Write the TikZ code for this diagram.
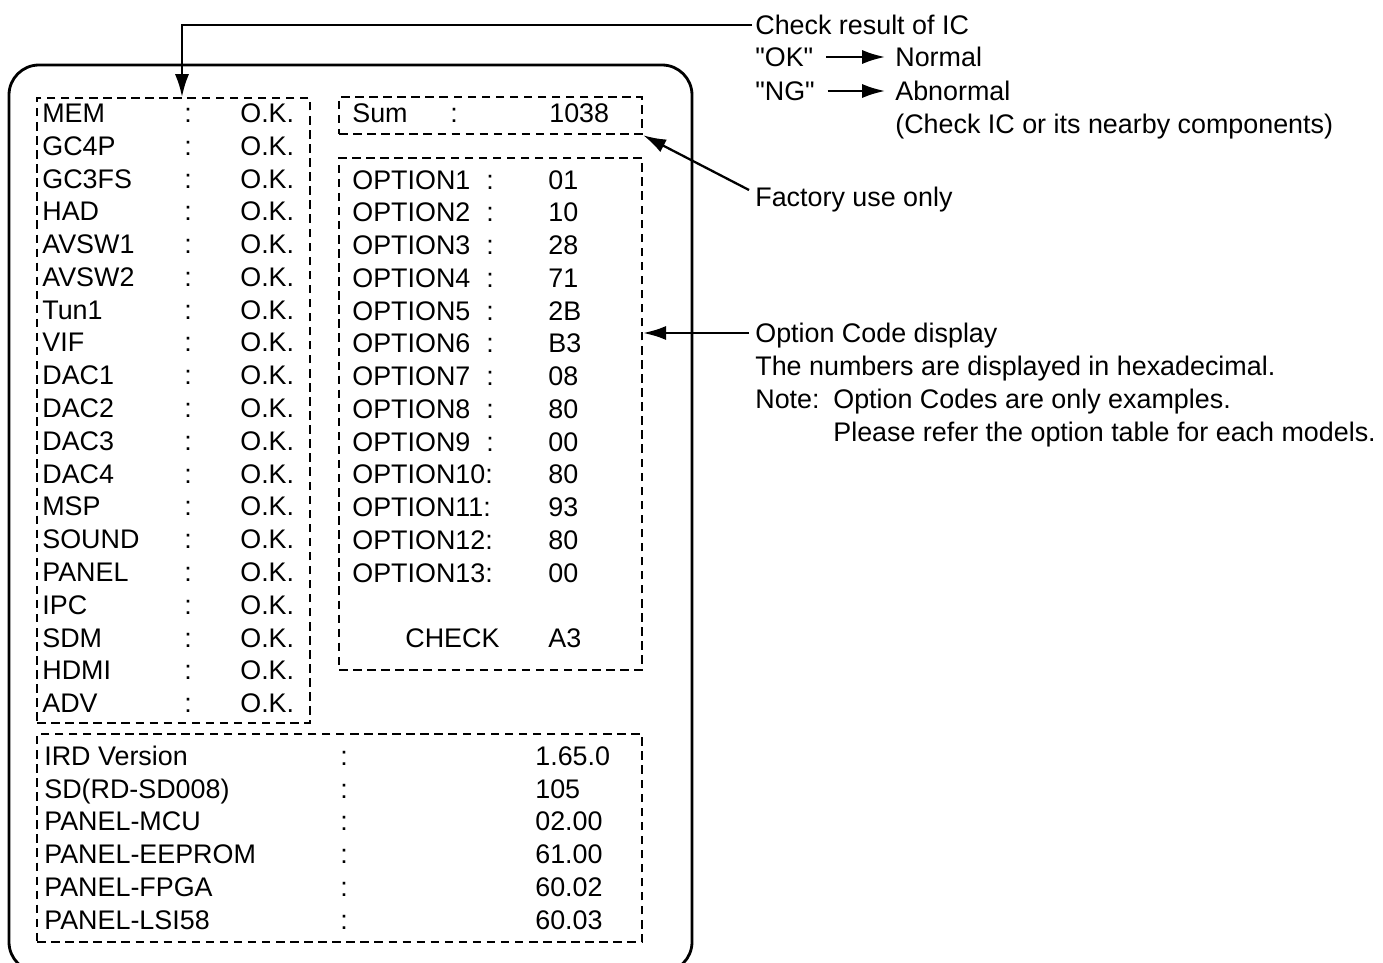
\documentclass[tikz,border=0pt]{standalone}
\usepackage{fontspec}
\newfontfamily\lbfont{Liberation Sans}
\usetikzlibrary{arrows.meta}

\begin{document}
\begin{tikzpicture}[x=0.02cm,y=-0.02cm,
    lbl/.style={anchor=west,inner sep=0pt,text height=10.9pt,text depth=0pt,font=\lbfont\fontsize{15.3}{18}\selectfont},
    dbox/.style={draw,line width=1.3pt,dash pattern=on 4.8pt off 3.2pt,anchor=north west,inner sep=0pt},
    arr/.style={line width=1.3pt,-{Latex[length=13pt,width=8pt]}}]
    \clip (0,0) rectangle (1383,963);
    % outer frame
    \draw[line width=1.6pt,rounded corners=0.6cm] (9,65) rectangle (692,972);
    \begin{scope}
    \node[dbox,minimum width=5.46cm,minimum height=12.5cm] (icbox) at (36,97) {};
    \node[dbox,minimum width=6.06cm,minimum height=0.74cm] (sumbox) at (338,96) {};
    \node[dbox,minimum width=6.06cm,minimum height=10.24cm] (optbox) at (338,157) {};
    \node[dbox,minimum width=12.1cm,minimum height=4.16cm] (verbox) at (36,733) {};
    \end{scope}
    \begin{scope}[every node/.style={lbl}]
    % IC check list
    \node (mem) at (42,113) {MEM}; \node (memc) at (184,113) {:}; \node (memv) at (240,113) {O.K.};
    \node (gc4p) at (42,146) {GC4P}; \node (gc4pc) at (184,146) {:}; \node (gc4pv) at (240,146) {O.K.};
    \node (gc3fs) at (42,179) {GC3FS}; \node (gc3fsc) at (184,179) {:}; \node (gc3fsv) at (240,179) {O.K.};
    \node (had) at (42,211) {HAD}; \node (hadc) at (184,211) {:}; \node (hadv) at (240,211) {O.K.};
    \node (avsw1) at (42,244) {AVSW1}; \node (avsw1c) at (184,244) {:}; \node (avsw1v) at (240,244) {O.K.};
    \node (avsw2) at (42,277) {AVSW2}; \node (avsw2c) at (184,277) {:}; \node (avsw2v) at (240,277) {O.K.};
    \node (tun1) at (42,310) {Tun1}; \node (tun1c) at (184,310) {:}; \node (tun1v) at (240,310) {O.K.};
    \node (vif) at (42,342) {VIF}; \node (vifc) at (184,342) {:}; \node (vifv) at (240,342) {O.K.};
    \node (dac1) at (42,375) {DAC1}; \node (dac1c) at (184,375) {:}; \node (dac1v) at (240,375) {O.K.};
    \node (dac2) at (42,408) {DAC2}; \node (dac2c) at (184,408) {:}; \node (dac2v) at (240,408) {O.K.};
    \node (dac3) at (42,441) {DAC3}; \node (dac3c) at (184,441) {:}; \node (dac3v) at (240,441) {O.K.};
    \node (dac4) at (42,474) {DAC4}; \node (dac4c) at (184,474) {:}; \node (dac4v) at (240,474) {O.K.};
    \node (msp) at (42,506) {MSP}; \node (mspc) at (184,506) {:}; \node (mspv) at (240,506) {O.K.};
    \node (sound) at (42,539) {SOUND}; \node (soundc) at (184,539) {:}; \node (soundv) at (240,539) {O.K.};
    \node (panel) at (42,572) {PANEL}; \node (panelc) at (184,572) {:}; \node (panelv) at (240,572) {O.K.};
    \node (ipc) at (42,605) {IPC}; \node (ipcc) at (184,605) {:}; \node (ipcv) at (240,605) {O.K.};
    \node (sdm) at (42,638) {SDM}; \node (sdmc) at (184,638) {:}; \node (sdmv) at (240,638) {O.K.};
    \node (hdmi) at (42,670) {HDMI}; \node (hdmic) at (184,670) {:}; \node (hdmiv) at (240,670) {O.K.};
    \node (adv) at (42,703) {ADV}; \node (advc) at (184,703) {:}; \node (advv) at (240,703) {O.K.};
    % sum
    \node (sumn) at (352,113) {Sum}; \node (sumc) at (450,113) {:}; \node (sumv) at (549,113) {1038};
    % option codes
    \node (o1) at (352,180) {OPTION1}; \node (o1c) at (486,180) {:}; \node (o1v) at (548,180) {01};
    \node (o2) at (352,212) {OPTION2}; \node (o2c) at (486,212) {:}; \node (o2v) at (548,212) {10};
    \node (o3) at (352,245) {OPTION3}; \node (o3c) at (486,245) {:}; \node (o3v) at (548,245) {28};
    \node (o4) at (352,278) {OPTION4}; \node (o4c) at (486,278) {:}; \node (o4v) at (548,278) {71};
    \node (o5) at (352,311) {OPTION5}; \node (o5c) at (486,311) {:}; \node (o5v) at (548,311) {2B};
    \node (o6) at (352,343) {OPTION6}; \node (o6c) at (486,343) {:}; \node (o6v) at (548,343) {B3};
    \node (o7) at (352,376) {OPTION7}; \node (o7c) at (486,376) {:}; \node (o7v) at (548,376) {08};
    \node (o8) at (352,409) {OPTION8}; \node (o8c) at (486,409) {:}; \node (o8v) at (548,409) {80};
    \node (o9) at (352,442) {OPTION9}; \node (o9c) at (486,442) {:}; \node (o9v) at (548,442) {00};
    \node (o10) at (352,474) {OPTION10:}; \node (o10v) at (548,474) {80};
    \node (o11) at (352,507) {OPTION11:}; \node (o11v) at (548,507) {93};
    \node (o12) at (352,540) {OPTION12:}; \node (o12v) at (548,540) {80};
    \node (o13) at (352,573) {OPTION13:}; \node (o13v) at (548,573) {00};
    \node (chkn) at (405,638) {CHECK}; \node (chkv) at (548,638) {A3};
    % versions
    \node (ird) at (44,756) {IRD Version}; \node (irdc) at (340,756) {:}; \node (irdv) at (535,756) {1.65.0};
    \node (sd) at (44,789) {SD(RD-SD008)}; \node (sdc) at (340,789) {:}; \node (sdv) at (535,789) {105};
    \node (mcu) at (44,821) {PANEL-MCU}; \node (mcuc) at (340,821) {:}; \node (mcuv) at (535,821) {02.00};
    \node (eep) at (44,854) {PANEL-EEPROM}; \node (eepc) at (340,854) {:}; \node (eepv) at (535,854) {61.00};
    \node (fpga) at (44,887) {PANEL-FPGA}; \node (fpgac) at (340,887) {:}; \node (fpgav) at (535,887) {60.02};
    \node (lsi) at (44,920) {PANEL-LSI58}; \node (lsic) at (340,920) {:}; \node (lsiv) at (535,920) {60.03};
    % notes
    \node (res) at (755,25) {Check result of IC};
    \node (ok) at (755,57) {"OK"}; \node (nrm) at (895,57) {Normal};
    \node (ng) at (755,91) {"NG"}; \node (abn) at (895,91) {Abnormal};
    \node (hint) at (895,124) {(Check IC or its nearby components)};
    \node (fac) at (755,197) {Factory use only};
    \node (ocd) at (755,333) {Option Code display};
    \node (hex) at (755,366) {The numbers are displayed in hexadecimal.};
    \node (note) at (755,399) {Note:}; \node (notea) at (833,399) {Option Codes are only examples.};
    \node (noteb) at (833,432) {Please refer the option table for each models.};
    \end{scope}
    \coordinate (icin) at (182,97);
    \draw[arr] ([xshift=-0.06cm]res.west) -| (icin);
    \draw[arr] ([xshift=0.25cm]ok.east) -- ([xshift=-0.2cm]nrm.west);
    \draw[arr] ([xshift=0.25cm]ng.east) -- ([xshift=-0.2cm]abn.west);
    \draw[arr] ([xshift=-0.12cm,yshift=0.14cm]fac.west) -- (sumbox.south east);
    \draw[arr] ([xshift=-0.12cm]ocd.west) -- (ocd.west -| optbox.east);
\end{tikzpicture}
\end{document}
